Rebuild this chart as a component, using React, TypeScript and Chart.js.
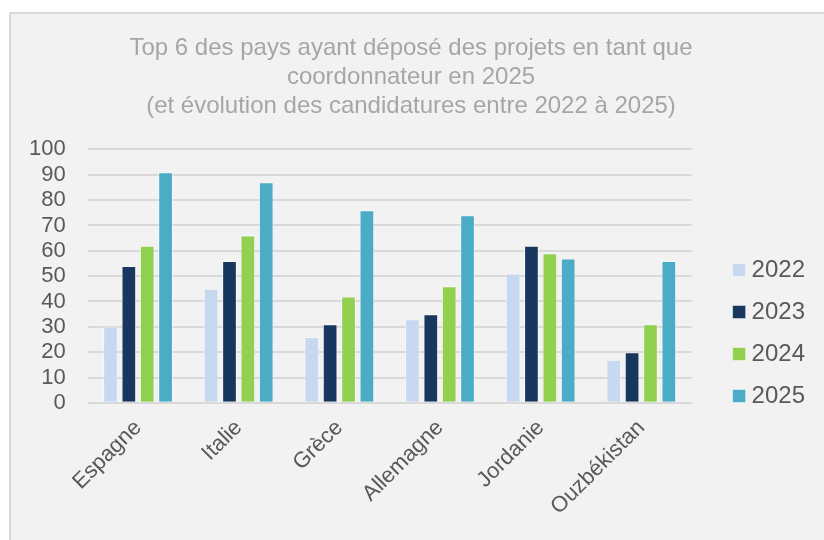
import React, { useEffect, useRef } from "react";
import { Chart, registerables } from "chart.js";

Chart.register(...registerables);

const categories = ["Espagne", "Italie", "Grèce", "Allemagne", "Jordanie", "Ouzbékistan"];
const seriesNames = ["2022", "2023", "2024", "2025"];
const values2022 = [30, 45, 26, 33, 51, 17];
const values2023 = [54, 56, 31, 35, 62, 20];
const values2024 = [62, 66, 42, 46, 59, 31];
const values2025 = [91, 87, 76, 74, 57, 56];
const seriesColors = ["#c6d9f0", "#17375e", "#92d050", "#4bacc6"];
const titleLines = [
  "Top 6 des pays ayant déposé des projets en tant que",
  "coordonnateur en 2025",
  "(et évolution des candidatures entre 2022 à 2025)",
];

const FONT = "'Liberation Sans', Arial, sans-serif";

export default function App() {
  const ref = useRef<HTMLCanvasElement>(null);
  useEffect(() => {
    if (!ref.current) return;
    const data = [values2022, values2023, values2024, values2025];
    const chart = new Chart(ref.current, {
      type: "bar",
      data: {
        labels: categories,
        datasets: seriesNames.map((name, i) => ({
          label: name,
          data: data[i],
          backgroundColor: seriesColors[i],
          borderColor: "rgba(255,255,255,0.45)",
          borderWidth: 1,
          categoryPercentage: 0.73,
          barPercentage: 0.8,
        })),
      },
      options: {
        responsive: true,
        maintainAspectRatio: false,
        animation: false,
        layout: { padding: { left: 7, right: 9, top: 24, bottom: 16 } },
        plugins: {
          title: {
            display: true,
            text: titleLines,
            color: "#a6a6a6",
            font: { family: FONT, size: 24, weight: "normal", lineHeight: 1.2 },
            padding: { top: 10, bottom: 29 },
          },
          legend: {
            position: "right",
            title: {
              display: true,
              text: " ",
              font: { size: 12, lineHeight: 1.2 },
              padding: { top: 0, bottom: 103.6 },
            },
            labels: {
              usePointStyle: true,
              pointStyle: "rect",
              boxWidth: 1,
              boxHeight: 13,
              padding: 18,
              color: "#595959",
              font: { family: FONT, size: 24 },
            },
          },
          tooltip: { enabled: false },
        },
        scales: {
          x: {
            grid: { display: false },
            border: { display: false },
            ticks: {
              autoSkip: false,
              maxRotation: 45,
              minRotation: 45,
              color: "#595959",
              padding: 4,
              font: { family: FONT, size: 22 },
            },
          },
          y: {
            min: 0,
            max: 100,
            border: { display: false },
            grid: { color: "#d9d9d9", lineWidth: 2, drawTicks: false },
            ticks: {
              stepSize: 10,
              autoSkip: false,
              color: "#595959",
              padding: 22,
              font: { family: FONT, size: 22 },
            },
          },
          gap: {
            type: "linear",
            position: "right",
            display: true,
            grid: { display: false },
            border: { display: false },
            ticks: { display: false },
            afterFit: (scale: any) => {
              scale.width = 29;
            },
          },
        },
      },
    });
    return () => chart.destroy();
  }, []);
  return (
    <div style={{ position: "fixed", left: 0, top: 0, width: 824, height: 540, background: "#ffffff", overflow: "hidden" }}>
      <div
        style={{
          position: "absolute",
          left: 9,
          top: 12,
          width: 840,
          height: 560,
          background: "#f2f2f2",
          border: "2px solid #d9d9d9",
          boxSizing: "border-box",
        }}
      />
      <div style={{ position: "absolute", left: 0, top: 0, width: 824, height: 540 }}>
        <canvas ref={ref} />
      </div>
    </div>
  );
}
